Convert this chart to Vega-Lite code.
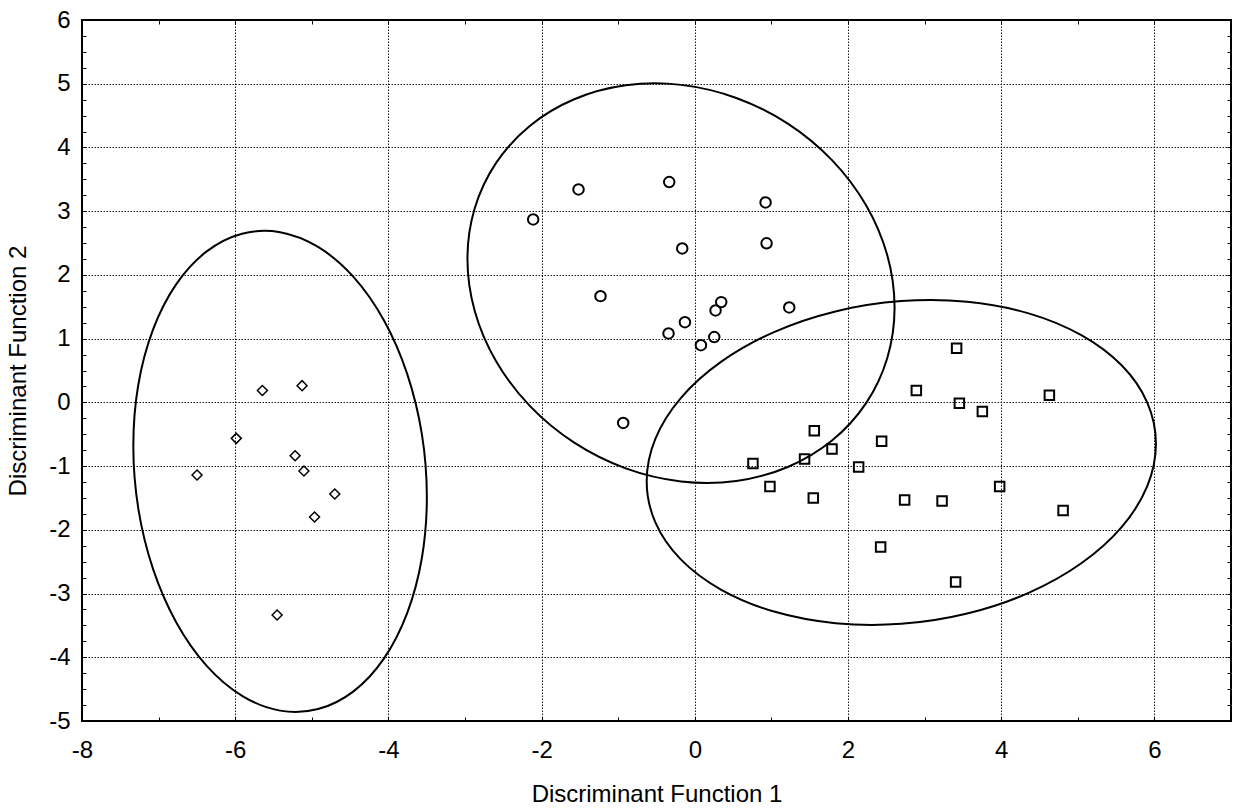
{
  "$schema": "https://vega.github.io/schema/vega-lite/v6.json",
  "width": 1149,
  "height": 701,
  "autosize": {"type": "none"},
  "padding": {"left": 82, "top": 20, "right": 5, "bottom": 90},
  "background": "white",
  "datasets": {
    "ellipses": [
      {"ellipse": "A", "i": 0, "x": -3.498, "y": -1.484},
      {"ellipse": "A", "i": 1, "x": -3.563, "y": -2.442},
      {"ellipse": "A", "i": 2, "x": -3.755, "y": -3.307},
      {"ellipse": "A", "i": 3, "x": -4.059, "y": -4.021},
      {"ellipse": "A", "i": 4, "x": -4.456, "y": -4.535},
      {"ellipse": "A", "i": 5, "x": -4.918, "y": -4.813},
      {"ellipse": "A", "i": 6, "x": -5.414, "y": -4.837},
      {"ellipse": "A", "i": 7, "x": -5.910, "y": -4.605},
      {"ellipse": "A", "i": 8, "x": -6.372, "y": -4.134},
      {"ellipse": "A", "i": 9, "x": -6.769, "y": -3.453},
      {"ellipse": "A", "i": 10, "x": -7.073, "y": -2.613},
      {"ellipse": "A", "i": 11, "x": -7.265, "y": -1.668},
      {"ellipse": "A", "i": 12, "x": -7.330, "y": -0.682},
      {"ellipse": "A", "i": 13, "x": -7.265, "y": 0.276},
      {"ellipse": "A", "i": 14, "x": -7.073, "y": 1.141},
      {"ellipse": "A", "i": 15, "x": -6.769, "y": 1.855},
      {"ellipse": "A", "i": 16, "x": -6.372, "y": 2.369},
      {"ellipse": "A", "i": 17, "x": -5.910, "y": 2.647},
      {"ellipse": "A", "i": 18, "x": -5.414, "y": 2.671},
      {"ellipse": "A", "i": 19, "x": -4.918, "y": 2.439},
      {"ellipse": "A", "i": 20, "x": -4.456, "y": 1.968},
      {"ellipse": "A", "i": 21, "x": -4.059, "y": 1.287},
      {"ellipse": "A", "i": 22, "x": -3.755, "y": 0.447},
      {"ellipse": "A", "i": 23, "x": -3.563, "y": -0.498},
      {"ellipse": "B", "i": 0, "x": 2.608, "y": 1.489},
      {"ellipse": "B", "i": 1, "x": 2.513, "y": 0.697},
      {"ellipse": "B", "i": 2, "x": 2.234, "y": -0.016},
      {"ellipse": "B", "i": 3, "x": 1.791, "y": -0.599},
      {"ellipse": "B", "i": 4, "x": 1.214, "y": -1.014},
      {"ellipse": "B", "i": 5, "x": 0.542, "y": -1.233},
      {"ellipse": "B", "i": 6, "x": -0.180, "y": -1.240},
      {"ellipse": "B", "i": 7, "x": -0.902, "y": -1.035},
      {"ellipse": "B", "i": 8, "x": -1.574, "y": -0.632},
      {"ellipse": "B", "i": 9, "x": -2.151, "y": -0.059},
      {"ellipse": "B", "i": 10, "x": -2.594, "y": 0.646},
      {"ellipse": "B", "i": 11, "x": -2.873, "y": 1.435},
      {"ellipse": "B", "i": 12, "x": -2.968, "y": 2.253},
      {"ellipse": "B", "i": 13, "x": -2.873, "y": 3.045},
      {"ellipse": "B", "i": 14, "x": -2.594, "y": 3.758},
      {"ellipse": "B", "i": 15, "x": -2.151, "y": 4.341},
      {"ellipse": "B", "i": 16, "x": -1.574, "y": 4.756},
      {"ellipse": "B", "i": 17, "x": -0.902, "y": 4.975},
      {"ellipse": "B", "i": 18, "x": -0.180, "y": 4.982},
      {"ellipse": "B", "i": 19, "x": 0.542, "y": 4.777},
      {"ellipse": "B", "i": 20, "x": 1.214, "y": 4.374},
      {"ellipse": "B", "i": 21, "x": 1.791, "y": 3.801},
      {"ellipse": "B", "i": 22, "x": 2.234, "y": 3.096},
      {"ellipse": "B", "i": 23, "x": 2.513, "y": 2.307},
      {"ellipse": "C", "i": 0, "x": 6.020, "y": -0.649},
      {"ellipse": "C", "i": 1, "x": 5.907, "y": -1.314},
      {"ellipse": "C", "i": 2, "x": 5.575, "y": -1.954},
      {"ellipse": "C", "i": 3, "x": 5.046, "y": -2.525},
      {"ellipse": "C", "i": 4, "x": 4.358, "y": -2.989},
      {"ellipse": "C", "i": 5, "x": 3.556, "y": -3.313},
      {"ellipse": "C", "i": 6, "x": 2.696, "y": -3.475},
      {"ellipse": "C", "i": 7, "x": 1.836, "y": -3.465},
      {"ellipse": "C", "i": 8, "x": 1.034, "y": -3.283},
      {"ellipse": "C", "i": 9, "x": 0.346, "y": -2.941},
      {"ellipse": "C", "i": 10, "x": -0.183, "y": -2.464},
      {"ellipse": "C", "i": 11, "x": -0.515, "y": -1.883},
      {"ellipse": "C", "i": 12, "x": -0.628, "y": -1.238},
      {"ellipse": "C", "i": 13, "x": -0.515, "y": -0.572},
      {"ellipse": "C", "i": 14, "x": -0.183, "y": 0.068},
      {"ellipse": "C", "i": 15, "x": 0.346, "y": 0.639},
      {"ellipse": "C", "i": 16, "x": 1.034, "y": 1.103},
      {"ellipse": "C", "i": 17, "x": 1.836, "y": 1.427},
      {"ellipse": "C", "i": 18, "x": 2.696, "y": 1.589},
      {"ellipse": "C", "i": 19, "x": 3.556, "y": 1.579},
      {"ellipse": "C", "i": 20, "x": 4.358, "y": 1.397},
      {"ellipse": "C", "i": 21, "x": 5.046, "y": 1.055},
      {"ellipse": "C", "i": 22, "x": 5.575, "y": 0.578},
      {"ellipse": "C", "i": 23, "x": 5.907, "y": -0.003}
    ],
    "diamonds": [
      {"x": -5.645, "y": 0.187},
      {"x": -5.127, "y": 0.262},
      {"x": -5.986, "y": -0.565},
      {"x": -5.218, "y": -0.837},
      {"x": -6.498, "y": -1.140},
      {"x": -5.103, "y": -1.077},
      {"x": -4.700, "y": -1.438},
      {"x": -4.964, "y": -1.799},
      {"x": -5.453, "y": -3.337}
    ],
    "circles": [
      {"x": -1.518, "y": 3.342},
      {"x": -0.334, "y": 3.457},
      {"x": -2.110, "y": 2.871},
      {"x": 0.924, "y": 3.138},
      {"x": -0.164, "y": 2.416},
      {"x": 0.937, "y": 2.495},
      {"x": -1.231, "y": 1.667},
      {"x": 0.345, "y": 1.573},
      {"x": 0.271, "y": 1.443},
      {"x": 1.233, "y": 1.490},
      {"x": -0.129, "y": 1.259},
      {"x": -0.343, "y": 1.082},
      {"x": 0.254, "y": 1.024},
      {"x": 0.080, "y": 0.898},
      {"x": -0.935, "y": -0.322}
    ],
    "squares": [
      {"x": 3.418, "y": 0.851},
      {"x": 2.892, "y": 0.187},
      {"x": 3.454, "y": -0.013},
      {"x": 3.754, "y": -0.143},
      {"x": 4.629, "y": 0.113},
      {"x": 1.560, "y": -0.447},
      {"x": 2.439, "y": -0.609},
      {"x": 1.791, "y": -0.730},
      {"x": 1.433, "y": -0.887},
      {"x": 0.759, "y": -0.959},
      {"x": 2.139, "y": -1.013},
      {"x": 0.981, "y": -1.320},
      {"x": 1.547, "y": -1.499},
      {"x": 2.739, "y": -1.531},
      {"x": 3.228, "y": -1.546},
      {"x": 3.980, "y": -1.320},
      {"x": 4.808, "y": -1.697},
      {"x": 2.426, "y": -2.268},
      {"x": 3.405, "y": -2.818}
    ]
  },
  "config": {
    "view": {"stroke": "black", "strokeWidth": 2},
    "axis": {
      "labelFont": "Liberation Sans",
      "titleFont": "Liberation Sans",
      "labelFontSize": 24,
      "titleFontSize": 24,
      "labelColor": "black",
      "titleColor": "black",
      "titleFontWeight": "normal",
      "tickColor": "black",
      "tickWidth": 1,
      "domain": false,
      "labelFlush": false,
      "labelOverlap": false
    }
  },
  "resolve": {"axis": {"x": "independent", "y": "independent"}},
  "layer": [
    {
      "data": {"name": "ellipses"},
      "mark": {"type": "line", "interpolate": "cardinal-closed", "stroke": "black", "strokeWidth": 2},
      "encoding": {
        "x": {
          "field": "x", "type": "quantitative",
          "scale": {"domain": [-8, 7], "nice": false, "zero": false},
          "axis": {
            "orient": "bottom",
            "values": [-8, -6, -4, -2, 0, 2, 4, 6],
            "ticks": false,
            "labelPadding": 17,
            "labelExpr": "'' + datum.value",
            "grid": true,
            "gridColor": "black",
            "gridDash": [1.5, 1.5],
            "gridWidth": 1,
            "gridOpacity": 0.9,
            "title": "Discriminant Function 1",
            "titlePadding": 20
          }
        },
        "y": {
          "field": "y", "type": "quantitative",
          "scale": {"domain": [-5, 6], "nice": false, "zero": false},
          "axis": {
            "orient": "left",
            "values": [-5, -4, -3, -2, -1, 0, 1, 2, 3, 4, 5, 6],
            "ticks": false,
            "labelPadding": 12,
            "labelExpr": "'' + datum.value",
            "grid": true,
            "gridColor": "black",
            "gridDash": [1.5, 1.5],
            "gridWidth": 1,
            "gridOpacity": 0.9,
            "title": "Discriminant Function 2",
            "titlePadding": 18
          }
        },
        "detail": {"field": "ellipse"},
        "order": {"field": "i", "type": "quantitative"}
      }
    },
    {
      "data": {"name": "diamonds"},
      "mark": {"type": "point", "shape": "diamond", "filled": false, "stroke": "black", "strokeWidth": 1.5, "size": 100, "opacity": 1},
      "encoding": {
        "x": {
          "field": "x", "type": "quantitative",
          "scale": {"domain": [-8, 7], "nice": false, "zero": false},
          "axis": {
            "orient": "bottom", "offset": -4,
            "values": [-8, -7, -6, -5, -4, -3, -2, -1, 0, 1, 2, 3, 4, 5, 6, 7],
            "labels": false, "ticks": true, "tickSize": 4, "grid": false, "domain": false, "title": null
          }
        },
        "y": {
          "field": "y", "type": "quantitative",
          "scale": {"domain": [-5, 6], "nice": false, "zero": false},
          "axis": {
            "orient": "left", "offset": -4,
            "values": [-5, -4.75, -4.5, -4.25, -4, -3.75, -3.5, -3.25, -3, -2.75, -2.5, -2.25, -2, -1.75, -1.5, -1.25, -1, -0.75, -0.5, -0.25, 0, 0.25, 0.5, 0.75, 1, 1.25, 1.5, 1.75, 2, 2.25, 2.5, 2.75, 3, 3.25, 3.5, 3.75, 4, 4.25, 4.5, 4.75, 5, 5.25, 5.5, 5.75, 6],
            "labels": false, "ticks": true, "tickSize": 4, "grid": false, "domain": false, "title": null
          }
        }
      }
    },
    {
      "data": {"name": "circles"},
      "mark": {"type": "point", "shape": "circle", "filled": false, "stroke": "black", "strokeWidth": 2, "size": 110, "opacity": 1},
      "encoding": {
        "x": {
          "field": "x", "type": "quantitative",
          "scale": {"domain": [-8, 7], "nice": false, "zero": false},
          "axis": {
            "orient": "top", "offset": -4,
            "values": [-8, -7, -6, -5, -4, -3, -2, -1, 0, 1, 2, 3, 4, 5, 6, 7],
            "labels": false, "ticks": true, "tickSize": 4, "grid": false, "domain": false, "title": null
          }
        },
        "y": {
          "field": "y", "type": "quantitative",
          "scale": {"domain": [-5, 6], "nice": false, "zero": false},
          "axis": {
            "orient": "right", "offset": -4,
            "values": [-5, -4.75, -4.5, -4.25, -4, -3.75, -3.5, -3.25, -3, -2.75, -2.5, -2.25, -2, -1.75, -1.5, -1.25, -1, -0.75, -0.5, -0.25, 0, 0.25, 0.5, 0.75, 1, 1.25, 1.5, 1.75, 2, 2.25, 2.5, 2.75, 3, 3.25, 3.5, 3.75, 4, 4.25, 4.5, 4.75, 5, 5.25, 5.5, 5.75, 6],
            "labels": false, "ticks": true, "tickSize": 4, "grid": false, "domain": false, "title": null
          }
        }
      }
    },
    {
      "data": {"name": "squares"},
      "mark": {"type": "point", "shape": "square", "filled": false, "stroke": "black", "strokeWidth": 2, "size": 90, "opacity": 1},
      "encoding": {
        "x": {
          "field": "x", "type": "quantitative",
          "scale": {"domain": [-8, 7], "nice": false, "zero": false},
          "axis": null
        },
        "y": {
          "field": "y", "type": "quantitative",
          "scale": {"domain": [-5, 6], "nice": false, "zero": false},
          "axis": null
        }
      }
    }
  ]
}
